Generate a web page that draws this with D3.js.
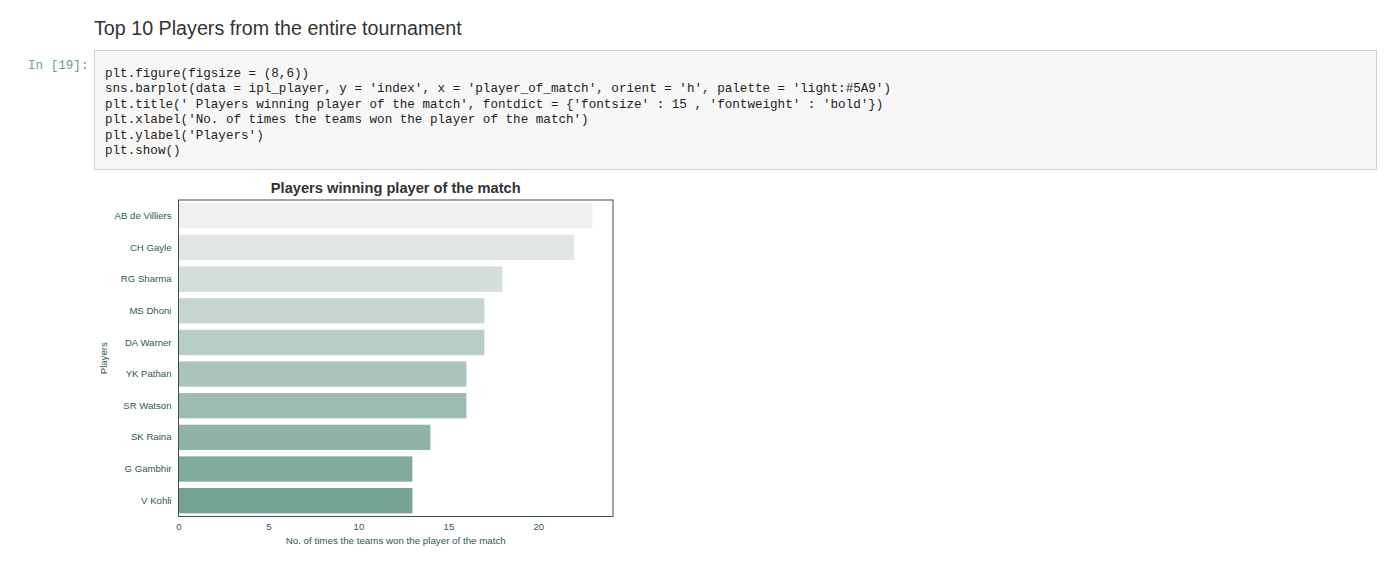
<!DOCTYPE html>
<html>
<head>
<meta charset="utf-8">
<script src="https://cdn.jsdelivr.net/npm/d3@7"></script>
<style>
  html, body { margin: 0; padding: 0; background: #ffffff; }
  svg { display: block; }
</style>
</head>
<body>
<svg id="page" width="1400" height="565"></svg>
<script>
// ---- data ----
const players = ["AB de Villiers", "CH Gayle", "RG Sharma", "MS Dhoni", "DA Warner",
                 "YK Pathan", "SR Watson", "SK Raina", "G Gambhir", "V Kohli"];
const awards = [23, 22, 18, 17, 17, 16, 16, 14, 13, 13];
const xTicks = [0, 5, 10, 15, 20];
const headingText = "Top 10 Players from the entire tournament";
const promptText = "In [19]:";
const codeLines = [
  "plt.figure(figsize = (8,6))",
  "sns.barplot(data = ipl_player, y = 'index', x = 'player_of_match', orient = 'h', palette = 'light:#5A9')",
  "plt.title(' Players winning player of the match', fontdict = {'fontsize' : 15 , 'fontweight' : 'bold'})",
  "plt.xlabel('No. of times the teams won the player of the match')",
  "plt.ylabel('Players')",
  "plt.show()"
];
const chartTitle = "Players winning player of the match";
const xLabel = "No. of times the teams won the player of the match";
const yLabel = "Players";

// ---- page ----
const svg = d3.select("#page");
svg.append("rect").attr("width", 1400).attr("height", 565).attr("fill", "#ffffff");

function fitText(sel, target) {
  const w = sel.node().getComputedTextLength();
  const fs = parseFloat(sel.attr("font-size"));
  sel.attr("font-size", (fs * target / w).toFixed(2));
}

// heading
const h = svg.append("text").attr("x", 94).attr("y", 35)
  .attr("font-family", "'Liberation Sans', Arial, sans-serif")
  .attr("font-size", 19).attr("fill", "#333333").text(headingText);
fitText(h, 368);

// code cell
svg.append("rect").attr("x", 94.5).attr("y", 50.5).attr("width", 1282).attr("height", 119)
  .attr("fill", "#f7f7f7").attr("stroke", "#d2d2d2");
svg.append("text").attr("x", 28).attr("y", 69)
  .attr("font-family", "'Liberation Mono', 'Courier New', monospace")
  .attr("font-size", 12.6).attr("fill", "#6e9a9a").text(promptText);
svg.append("g").selectAll("text").data(codeLines).join("text")
  .attr("x", 105).attr("y", (d, i) => 77 + i * 15.4)
  .attr("font-family", "'Liberation Mono', 'Courier New', monospace")
  .attr("font-size", 12.6).attr("fill", "#222222")
  .style("white-space", "pre")
  .text(d => d);

// ---- chart ----
const axL = 178.5, axR = 613, axT = 200, axB = 516.5;
const x = d3.scaleLinear().domain([0, d3.max(awards) * 1.05]).range([axL, axR]);
const y = d3.scaleBand().domain(players).range([axT, axB]).paddingInner(0.2).paddingOuter(0.1);
const color = d3.scaleLinear().domain([0, players.length - 1])
  .range(["#efefef", "#74a295"]).interpolate(d3.interpolateRgb);

const g = svg.append("g");
g.selectAll("rect.bar").data(players).join("rect").attr("class", "bar")
  .attr("x", x(0)).attr("y", d => y(d))
  .attr("width", (d, i) => x(awards[i]) - x(0))
  .attr("height", y.bandwidth())
  .attr("fill", (d, i) => color(i));

const tickColor = "#2f5a53";
const font = "'Liberation Sans', Arial, Helvetica, sans-serif";

// axes
const yAxis = g.append("g").attr("transform", `translate(${axL},0)`)
  .call(d3.axisLeft(y).tickSize(0).tickPadding(7));
yAxis.select(".domain").remove();
yAxis.selectAll("text").attr("font-family", font).attr("font-size", 9.6).attr("fill", tickColor);

const xAxis = g.append("g").attr("transform", `translate(0,${axB})`)
  .call(d3.axisBottom(x).tickValues(xTicks).tickSize(0).tickPadding(7).tickFormat(d3.format("d")));
xAxis.select(".domain").remove();
xAxis.selectAll("text").attr("font-family", font).attr("font-size", 9.6).attr("fill", tickColor);

// frame
g.append("rect").attr("x", axL).attr("y", axT).attr("width", axR - axL).attr("height", axB - axT)
  .attr("fill", "none").attr("stroke", "#3a4f4b").attr("stroke-width", 1);

// titles
const t = svg.append("text").attr("x", (axL + axR) / 2).attr("y", 193)
  .attr("text-anchor", "middle").attr("font-family", font).attr("font-weight", "bold")
  .attr("font-size", 14).attr("fill", "#333333").text(chartTitle);
fitText(t, 250);

const xl = svg.append("text").attr("x", (axL + axR) / 2).attr("y", 544)
  .attr("text-anchor", "middle").attr("font-family", font)
  .attr("font-size", 9.6).attr("fill", tickColor).text(xLabel);
fitText(xl, 220);

svg.append("text").attr("transform", `translate(107,${(axT + axB) / 2}) rotate(-90)`)
  .attr("text-anchor", "middle").attr("font-family", font)
  .attr("font-size", 9.6).attr("fill", tickColor).text(yLabel);
</script>
</body>
</html>
